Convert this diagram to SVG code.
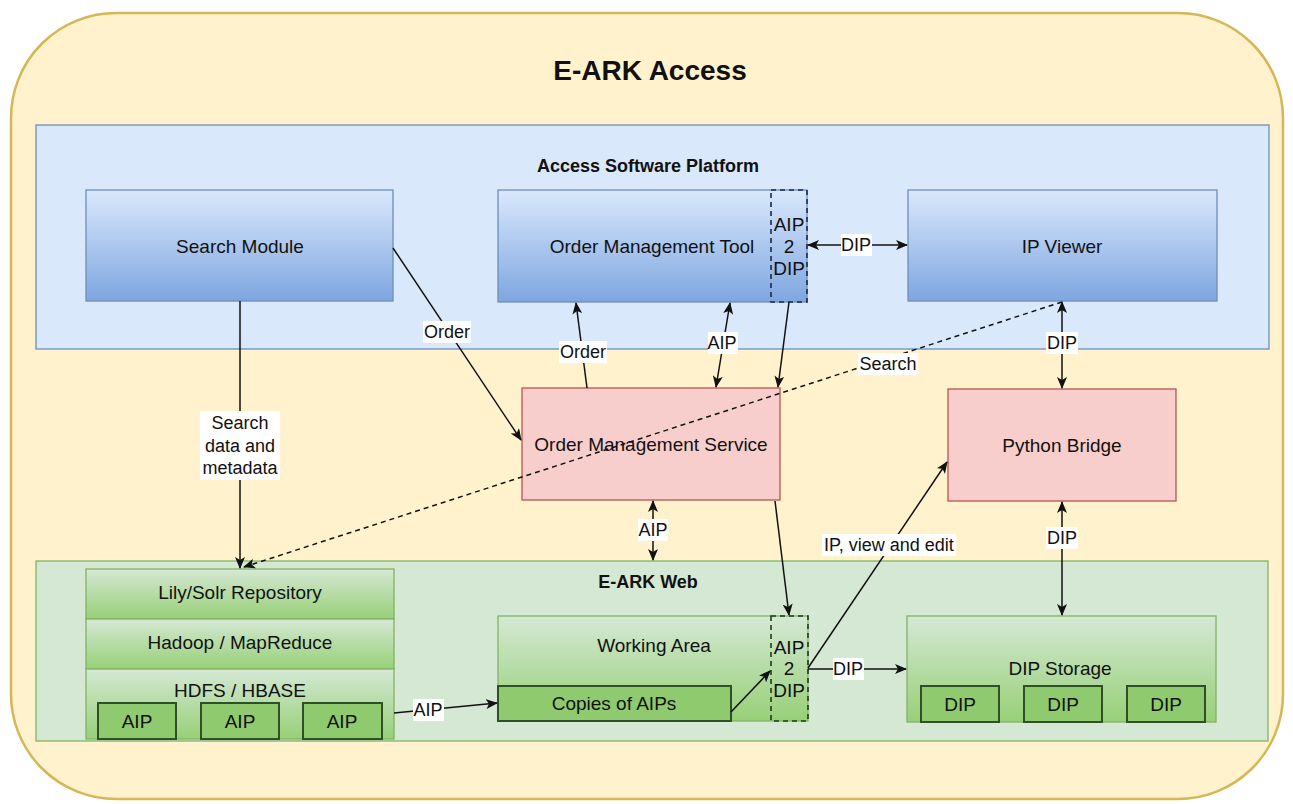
<svg xmlns="http://www.w3.org/2000/svg" width="1293" height="804" viewBox="0 0 1293 804">
<style>
text{font-family:"Liberation Sans",Arial,sans-serif;fill:#111;text-anchor:middle;dominant-baseline:central}
.nt{font-size:19px}
.lb{font-size:18px}
.bold{font-weight:bold}
.blue{fill:url(#gb);stroke:#6c8ebf;stroke-width:1.3}
.red{fill:#f8cecc;stroke:#b85450;stroke-width:1.3}
.green{fill:url(#gg);stroke:#82b366;stroke-width:1.3}
.sg{fill:#8fca6e;stroke:#2f4f26;stroke-width:2}
.dash-b{fill:none;stroke:#1a2a4a;stroke-width:1.6;stroke-dasharray:5 4}
.dash-g{fill:none;stroke:#1f3a18;stroke-width:1.6;stroke-dasharray:5 4}
.c{fill:none;stroke:#111;stroke-width:1.5}
.bg{fill:#fff}
</style>
<defs>
<linearGradient id="gb" x1="0" y1="0" x2="0" y2="1"><stop offset="0" stop-color="#dae8fc"/><stop offset="1" stop-color="#7ea6e0"/></linearGradient>
<linearGradient id="gg" x1="0" y1="0" x2="0" y2="1"><stop offset="0" stop-color="#d5e8d4"/><stop offset="1" stop-color="#97d077"/></linearGradient>
<marker id="ah" viewBox="0 0 12 10" refX="11" refY="5" markerWidth="12" markerHeight="10" markerUnits="userSpaceOnUse" orient="auto-start-reverse"><path d="M0,0 L12,5 L0,10 L3,5 z" fill="#111"/></marker>
</defs>

<g id="outer">
<rect x="11" y="13" width="1272" height="786" rx="105" ry="105" fill="#fff2cc" stroke="#d6b656" stroke-width="2.5"/>
<text x="650" y="70" class="bold" font-size="28">E-ARK Access</text>
</g>

<g id="platform">
<rect x="36" y="125" width="1233" height="224" fill="#dae8fc" stroke="#6c8ebf" stroke-width="1.3"/>
<text x="648" y="166" class="bold" font-size="18">Access Software Platform</text>
</g>

<g id="web">
<rect x="36" y="561" width="1232" height="180" fill="#d5e8d4" stroke="#82b366" stroke-width="1.3"/>
<text x="648" y="582" class="bold" font-size="18">E-ARK Web</text>
</g>

<g id="search-module">
<rect class="blue" x="86" y="190" width="307" height="111"/>
<text class="nt" x="240" y="246">Search Module</text>
</g>

<g id="order-management-tool">
<rect class="blue" x="498" y="190" width="309" height="112"/>
<text class="nt" x="652" y="246">Order Management Tool</text>
<rect class="dash-b" x="771" y="190" width="36" height="112"/>
<text class="nt" x="789" y="224">AIP</text>
<text class="nt" x="789" y="246">2</text>
<text class="nt" x="789" y="268">DIP</text>
</g>

<g id="ip-viewer">
<rect class="blue" x="908" y="190" width="309" height="111"/>
<text class="nt" x="1062" y="246">IP Viewer</text>
</g>

<g id="order-management-service">
<rect class="red" x="522" y="388" width="258" height="112"/>
<text class="nt" x="651" y="444">Order Management Service</text>
</g>

<g id="python-bridge">
<rect class="red" x="948" y="389" width="228" height="112"/>
<text class="nt" x="1062" y="445">Python Bridge</text>
</g>

<g id="lily-solr">
<rect class="green" x="86" y="569" width="308" height="50"/>
<text class="nt" x="240" y="592">Lily/Solr Repository</text>
</g>
<g id="hadoop">
<rect class="green" x="86" y="619" width="308" height="50"/>
<text class="nt" x="240" y="642">Hadoop / MapReduce</text>
</g>
<g id="hdfs">
<rect class="green" x="86" y="669" width="308" height="70"/>
<text class="nt" x="240" y="690">HDFS / HBASE</text>
<rect class="sg" x="98" y="703" width="78" height="36"/>
<text class="nt" x="137" y="721">AIP</text>
<rect class="sg" x="201" y="703" width="78" height="36"/>
<text class="nt" x="240" y="721">AIP</text>
<rect class="sg" x="303" y="703" width="79" height="36"/>
<text class="nt" x="342" y="721">AIP</text>
</g>

<g id="working-area">
<rect class="green" x="498" y="616" width="310" height="105"/>
<text class="nt" x="654" y="645">Working Area</text>
<rect class="dash-g" x="771" y="616" width="37" height="105"/>
<text class="nt" x="789" y="647">AIP</text>
<text class="nt" x="789" y="668">2</text>
<text class="nt" x="789" y="690">DIP</text>
</g>
<g id="copies-of-aips">
<rect class="sg" x="498" y="686" width="233" height="35"/>
<text class="nt" x="614" y="703">Copies of AIPs</text>
</g>

<g id="dip-storage">
<rect class="green" x="907" y="616" width="309" height="106"/>
<text class="nt" x="1060" y="668">DIP Storage</text>
<rect class="sg" x="921" y="686" width="78" height="36"/>
<text class="nt" x="960" y="704">DIP</text>
<rect class="sg" x="1024" y="686" width="78" height="36"/>
<text class="nt" x="1063" y="704">DIP</text>
<rect class="sg" x="1127" y="686" width="78" height="36"/>
<text class="nt" x="1166" y="704">DIP</text>
</g>

<g id="connectors">
<!-- Search Module -> Lily/Solr -->
<path class="c" d="M240,301 L240,568" marker-end="url(#ah)"/>
<rect class="bg" x="200" y="411" width="80" height="69"/>
<text class="lb" x="240" y="423">Search</text>
<text class="lb" x="240" y="446">data and</text>
<text class="lb" x="240" y="468">metadata</text>

<!-- Search Module -> OMS -->
<path class="c" d="M393,248 L521,440" marker-end="url(#ah)"/>
<rect class="bg" x="423" y="321" width="48" height="22"/>
<text class="lb" x="447" y="332">Order</text>

<!-- OMS -> OMT -->
<path class="c" d="M587,388 L576,303" marker-end="url(#ah)"/>
<rect class="bg" x="559" y="341" width="48" height="22"/>
<text class="lb" x="583" y="352">Order</text>

<!-- OMT <-> OMS AIP -->
<path class="c" d="M730,303 L716,387" marker-start="url(#ah)" marker-end="url(#ah)"/>
<rect class="bg" x="708" y="332" width="30" height="22"/>
<text class="lb" x="722" y="343">AIP</text>

<!-- AIP2DIP -> OMS -->
<path class="c" d="M789,302 L778,387" marker-end="url(#ah)"/>

<!-- OMT <-> IP Viewer DIP -->
<path class="c" d="M808,245 L907,245" marker-start="url(#ah)" marker-end="url(#ah)"/>
<rect class="bg" x="841" y="234" width="31" height="22"/>
<text class="lb" x="856" y="245">DIP</text>

<!-- IP Viewer -> Lily/Solr Search (dashed) -->
<path class="c" d="M1062,302 L244,567" stroke-dasharray="5 4" marker-end="url(#ah)"/>
<rect class="bg" x="858" y="353" width="60" height="22"/>
<text class="lb" x="888" y="364">Search</text>

<!-- IP Viewer <-> Python Bridge -->
<path class="c" d="M1062,302 L1062,388" marker-start="url(#ah)" marker-end="url(#ah)"/>
<rect class="bg" x="1046" y="332" width="32" height="22"/>
<text class="lb" x="1062" y="343">DIP</text>

<!-- OMS <-> E-ARK Web -->
<path class="c" d="M653,501 L653,560" marker-start="url(#ah)" marker-end="url(#ah)"/>
<rect class="bg" x="638" y="519" width="30" height="22"/>
<text class="lb" x="653" y="530">AIP</text>

<!-- OMS -> AIP2DIP in working area -->
<path class="c" d="M775,501 L789,615" marker-end="url(#ah)"/>

<!-- AIP2DIP -> Python Bridge -->
<path class="c" d="M808,668 L947,462" marker-end="url(#ah)"/>
<rect class="bg" x="822" y="534" width="134" height="22"/>
<text class="lb" x="889" y="545">IP, view and edit</text>

<!-- Python Bridge <-> DIP Storage -->
<path class="c" d="M1062,502 L1062,615" marker-start="url(#ah)" marker-end="url(#ah)"/>
<rect class="bg" x="1046" y="527" width="32" height="22"/>
<text class="lb" x="1062" y="538">DIP</text>

<!-- HDFS -> Copies of AIPs -->
<path class="c" d="M394,713 L497,703" marker-end="url(#ah)"/>
<rect class="bg" x="413" y="699" width="31" height="22"/>
<text class="lb" x="428" y="710">AIP</text>

<!-- Copies -> AIP2DIP -->
<path class="c" d="M731,712 L770,671" marker-end="url(#ah)"/>

<!-- AIP2DIP -> DIP Storage -->
<path class="c" d="M808,669 L906,669" marker-end="url(#ah)"/>
<rect class="bg" x="833" y="658" width="31" height="22"/>
<text class="lb" x="848" y="669">DIP</text>
</g>
</svg>
